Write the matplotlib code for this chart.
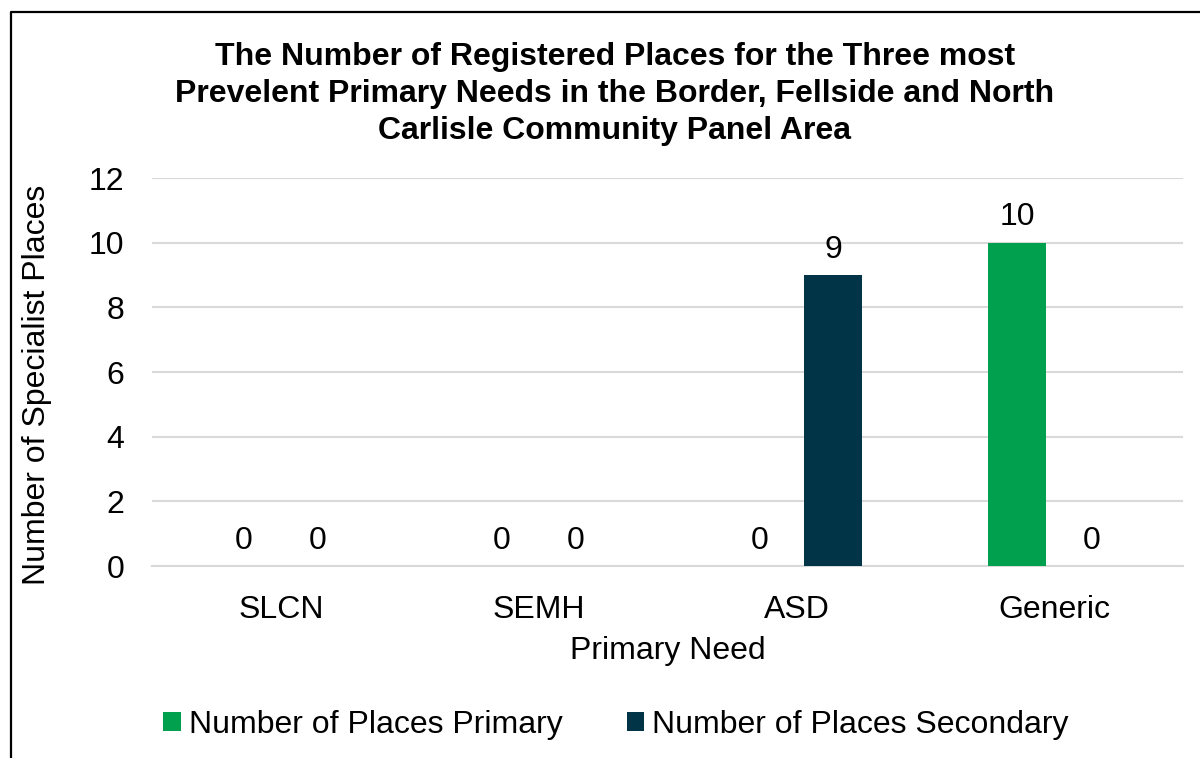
import matplotlib
matplotlib.use("Agg")
import matplotlib.pyplot as plt
import numpy as np
from matplotlib.lines import Line2D

categories = ["SLCN", "SEMH", "ASD", "Generic"]
primary = [0, 0, 0, 10]
secondary = [0, 0, 9, 0]
series_names = ["Number of Places Primary", "Number of Places Secondary"]
yticks = [0, 2, 4, 6, 8, 10, 12]
title = ("The Number of Registered Places for the Three most\n"
         "Prevelent Primary Needs in the Border, Fellside and North\n"
         "Carlisle Community Panel Area")

plt.rcParams['font.family'] = ['Liberation Sans', 'DejaVu Sans']

fig = plt.figure(figsize=(12, 7.58), dpi=100)
ax = fig.add_axes([152/1200, 1-566/758, (1183-152)/1200, (566-178)/758])

FS = 23
x = np.arange(len(categories))
w = 0.225
off = 0.144
green = "#00A04E"
navy = "#003446"
b1 = ax.bar(x - off, primary, w, color=green, label=series_names[0], zorder=3)
b2 = ax.bar(x + off, secondary, w, color=navy, label=series_names[1], zorder=3)

for bars, vals in ((b1, primary), (b2, secondary)):
    for r, v in zip(bars, vals):
        ax.annotate(str(v), (r.get_x() + r.get_width()/2, v), xytext=(0, 7.5),
                    textcoords="offset points", ha="center", va="bottom",
                    fontsize=FS, color="black")

ax.set_xlim(-0.5, len(categories) - 0.5)
ax.set_ylim(0, 12)
ax.set_yticks(yticks)
ax.set_xticks(x)
ax.set_xticklabels(categories)
ax.tick_params(axis='both', length=0, labelsize=FS, colors="black")
ax.tick_params(axis='x', pad=21)
ax.tick_params(axis='y', pad=20)
ax.grid(axis='y', color="#D9D9D9", linewidth=1.5, zorder=0)
for s in ["top", "right", "left"]:
    ax.spines[s].set_visible(False)
ax.spines["bottom"].set_color("#D9D9D9")
ax.spines["bottom"].set_linewidth(1.5)

ax.set_xlabel("Primary Need", fontsize=FS)
ax.xaxis.set_label_coords(0.5, (566-651)/388, transform=ax.transAxes)
ax.xaxis.label.set_va("center")
ax.set_ylabel("Number of Specialist Places", fontsize=FS)
ax.yaxis.set_label_coords((37-152)/1031, (566-385)/388, transform=ax.transAxes)
ax.yaxis.label.set_va("center")

fig.text(615/1200, 1-94/758, title, ha="center", va="center", fontsize=23,
         fontweight="bold", linespacing=1.31)

fig.legend(handles=[b1, b2], labels=series_names, loc="center",
           bbox_to_anchor=(616/1200, 1-725/758), ncol=2, frameon=False,
           fontsize=FS, handlelength=0.55, handleheight=0.55, handletextpad=0.25,
           columnspacing=2.0)

# outer border (top and left visible)
fig.add_artist(Line2D([11/1200, 11/1200, 1.0], [0.0, 1-12/758, 1-12/758],
                      transform=fig.transFigure, color="black", linewidth=1.6))

fig.savefig("out.png", dpi=100)
